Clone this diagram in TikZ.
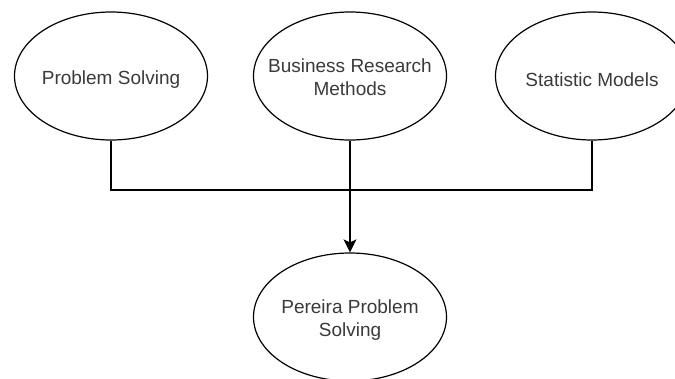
\documentclass[tikz,border=0pt]{standalone}
\usepackage{fontspec}
\setmainfont{Liberation Sans}
\usetikzlibrary{shapes.geometric,arrows.meta}
\definecolor{txt}{HTML}{3A3A3A}
\begin{document}
\begin{tikzpicture}[x=1pt,y=-1pt,
  oval/.style={ellipse,draw,line width=1.2pt,minimum width=193pt,minimum height=128pt,inner sep=0pt},
  lbl/.style={align=center,inner sep=0pt,font=\fontsize{19}{23}\selectfont,text=txt},
  conn/.style={line width=1.2pt}]
\useasboundingbox (0,0) rectangle (675,378);
\clip (0,0) rectangle (675,378);
\node[oval] (ps) at (111,76) {};
\node[lbl] (psl) at ([yshift=-4pt]ps.center) {Problem Solving};
\node[oval] (brm) at (350,76) {};
\node[lbl] (brml) at ([yshift=-1pt]brm.center) {Business Research\\Methods};
\node[oval] (sm) at (592,76) {};
\node[lbl] (sml) at ([yshift=-4pt]sm.center) {Statistic Models};
\node[oval] (pps) at (350,317) {};
\node[lbl] (ppsl) at ([yshift=-3pt]pps.center) {Pereira Problem\\Solving};
\coordinate (j) at (350,190);
\draw[conn] (ps.south) |- (j) -| (sm.south);
\draw[conn,-{Stealth[length=13pt,width=13pt,inset=3pt]}] (brm.south) -- (pps.north);
\end{tikzpicture}
\end{document}
